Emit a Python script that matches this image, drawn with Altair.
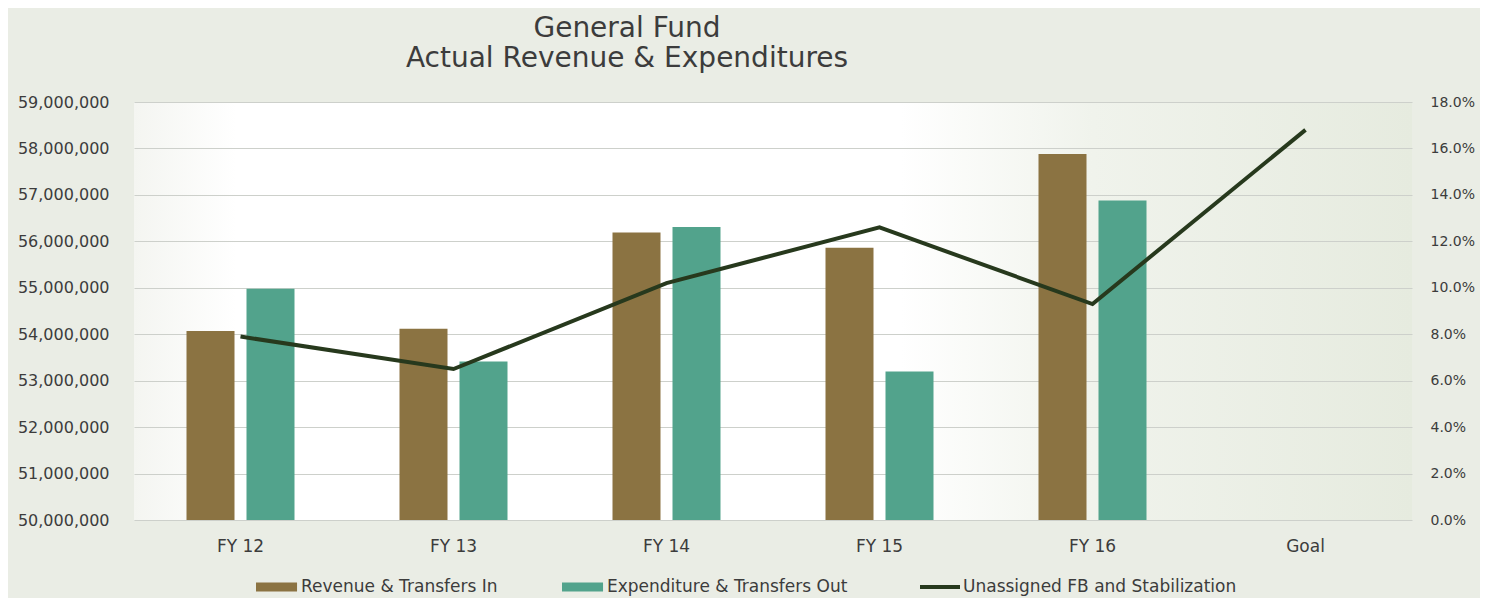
import altair as alt
import pandas as pd

categories = ["FY 12", "FY 13", "FY 14", "FY 15", "FY 16", "Goal"]
bar_years = ["FY 12", "FY 13", "FY 14", "FY 15", "FY 16"]
revenue = [54070000, 54120000, 56190000, 55860000, 57880000]
expenditure = [54980000, 53410000, 56310000, 53200000, 56880000]
fb_share = [0.079, 0.065, 0.102, 0.126, 0.093, 0.168]
series_names = ["Revenue & Transfers In", "Expenditure & Transfers Out"]
line_name = "Unassigned FB and Stabilization"
left_ticks = [50000000, 51000000, 52000000, 53000000, 54000000,
              55000000, 56000000, 57000000, 58000000, 59000000]
right_ticks = [0.0, 0.02, 0.04, 0.06, 0.08, 0.10, 0.12, 0.14, 0.16, 0.18]

BROWN = "#8b7342"
TEAL = "#52a38c"
DARK = "#27391d"
TXT = "#3c3c3c"
FONT = "DejaVu Sans"

rows = []
for yr, r, e in zip(bar_years, revenue, expenditure):
    rows.append({"year": yr, "series": series_names[0], "value": r})
    rows.append({"year": yr, "series": series_names[1], "value": e})
bars_df = pd.DataFrame(rows)
line_df = pd.DataFrame({"year": categories, "share": fb_share, "series": [line_name] * len(categories)})

x_scale = alt.Scale(domain=categories, paddingInner=0, paddingOuter=0)
x_axis = alt.Axis(title=None, labelAngle=0, ticks=False, domain=False, labelFontSize=17,
                  labelFont=FONT, labelColor=TXT, labelPadding=18, grid=False)

bars = alt.Chart(bars_df).mark_bar().encode(
    x=alt.X("year:N", scale=x_scale, axis=x_axis, sort=categories),
    xOffset=alt.XOffset("series:N", sort=series_names,
                        scale=alt.Scale(domain=series_names, paddingInner=0.2, paddingOuter=0.875)),
    y=alt.Y("value:Q", scale=alt.Scale(domain=[50000000, 59000000], zero=False, nice=False),
            axis=alt.Axis(title=None, values=left_ticks, format=",d", grid=True, gridColor="#cdd0cb",
                          gridWidth=1, ticks=False, domain=False, labelPadding=25, labelFontSize=16,
                          labelFont=FONT, labelColor=TXT)),
    y2=alt.datum(50000000),
    fill=alt.Fill("series:N", sort=series_names,
                  scale=alt.Scale(domain=series_names, range=[BROWN, TEAL]),
                  legend=alt.Legend(title=None, orient="none", direction="horizontal",
                                    legendX=122, legendY=474, clipHeight=22,
                                    symbolType="M-1,-0.5H3.56V0.5H-1Z", symbolSize=324,
                                    symbolStrokeWidth=0, labelOffset=27, columnPadding=64,
                                    labelFontSize=17, labelFont=FONT, labelColor=TXT,
                                    labelLimit=400)),
)

line = alt.Chart(line_df).mark_line(strokeWidth=4, strokeJoin="miter").encode(
    x=alt.X("year:N", scale=x_scale, axis=x_axis, sort=categories),
    y=alt.Y("share:Q", scale=alt.Scale(domain=[0, 0.18], nice=False, zero=True),
            axis=alt.Axis(title=None, orient="right", values=right_ticks, format=".1%", grid=False,
                          ticks=False, domain=False, labelPadding=18, labelFontSize=14,
                          labelFont=FONT, labelColor=TXT)),
    stroke=alt.Stroke("series:N", scale=alt.Scale(domain=[line_name], range=[DARK]),
                      legend=alt.Legend(title=None, orient="none", direction="horizontal",
                                        legendX=784, legendY=474, clipHeight=22,
                                        symbolType="stroke", symbolSize=1600, symbolStrokeWidth=4,
                                        labelOffset=1, labelFontSize=17, labelFont=FONT,
                                        labelColor=TXT, labelLimit=400)),
)

view_fill = alt.ExprRef(expr=(
    "{gradient: 'linear', x1: 0, x2: 1, y1: 0, y2: 0, stops: ["
    "{offset: 0, color: '#f4f5f1'}, {offset: 0.08, color: '#ffffff'}, "
    "{offset: 0.6, color: '#ffffff'}, {offset: 0.75, color: '#f0f3ec'}, "
    "{offset: 1, color: '#e6ebdf'}]}"
))

chart = alt.layer(bars, line).resolve_scale(y="independent").properties(
    width=1278,
    height=418,
    padding={"left": 126, "top": 94, "right": 68, "bottom": 78},
    autosize=alt.AutoSizeParams(type="none"),
    background="#eaede5",
    title=alt.TitleParams(
        text=["General Fund", "Actual Revenue & Expenditures"],
        font=FONT, fontSize=28, fontWeight="normal", color=TXT, lineHeight=30,
        anchor="middle", dx=-146, offset=-1, baseline="alphabetic",
    ),
).configure_view(stroke=None, fill=view_fill)

chart.save("out.html", embed_options={"renderer": "svg", "actions": False})
